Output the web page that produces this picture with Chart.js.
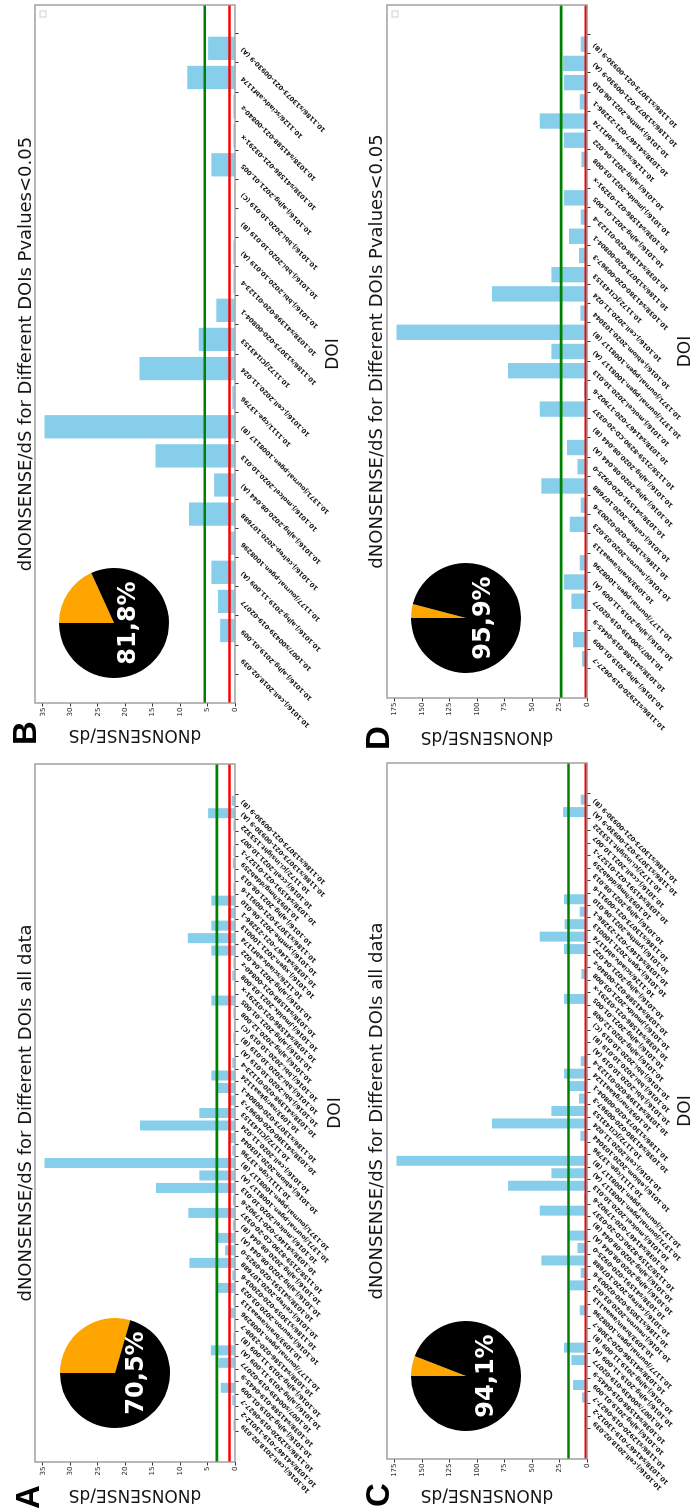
<!DOCTYPE html>
<html>
<head>
<meta charset="utf-8">
<script src="https://cdn.jsdelivr.net/npm/chart.js@4.4.1/dist/chart.umd.min.js"></script>
<style>
  html, body { margin: 0; padding: 0; background: #fff; width: 699px; height: 1510px; overflow: hidden; }
  /* the figure is laid out landscape and turned a quarter turn counter-clockwise */
  #fig { position: absolute; left: 0; top: 0; width: 1510px; height: 699px; background: #fff;
         transform-origin: 0 0; transform: translate(0, 1510px) rotate(-90deg);
         font-family: "DejaVu Sans", sans-serif; }
  .panel { position: absolute; }
  .panel canvas { position: absolute; left: 0; top: 0; }
  .letter { position: absolute; font: bold 33px/33px "Liberation Sans", Arial, sans-serif; color: #000; }
  .ttl { position: absolute; font-size: 18px; line-height: 18px; white-space: nowrap; color: #151515;
         transform: translateX(-50%); }
</style>
</head>
<body>
<div id="fig"></div>
<script>
// ═══ DATA ═══
const DOIS = [
  "10.1016/j.cell.2018.02.039", "10.1038/s41467-019-13012-2", "10.1186/s12920-019-0627-7",
  "10.1016/j.ajhg.2019.01.009", "10.1038/s41588-019-0445-9", "10.1007/s00439-019-02077",
  "10.1016/j.ajhg.2019.11.009 (A)", "10.1016/j.ajhg.2019.11.009 (B)", "10.1038/s41586-020-2308-7",
  "10.1177/journal.pgen.1008296", "10.1093/brain/awaa113", "10.1016/j.neuron.2020.03.023",
  "10.1186/s13059-020-02003-6", "10.1016/j.celrep.2020.107688", "10.1038/s41591-020-0925-0",
  "10.1016/j.ajhg.2020.08.044 (A)", "10.1016/j.ajhg.2020.08.044 (B)", "10.1158/2159-8290.CD-20-0337",
  "10.1038/s41467-020-17902-6", "10.1016/j.molcel.2020.10.013", "10.1371/journal.pgen.1008117 (A)",
  "10.1371/journal.pgen.1008117 (B)", "10.1111/cge.13796", "10.1016/j.ebiom.2020.103044",
  "10.1016/j.cell.2020.11.024", "10.1172/JCI143153", "10.1038/s41380-020-00967-3",
  "10.1186/s13073-020-00804-1", "10.1093/nar/gkaa1124", "10.1038/s41398-020-01123-4",
  "10.1016/j.bbi.2020.10.019 (A)", "10.1016/j.bbi.2020.10.019 (B)", "10.1016/j.bbi.2020.10.019 (C)",
  "10.1016/j.ajhg.2020.12.008", "10.1016/j.ajhg.2021.01.005", "10.1038/s41586-021-03291-x",
  "10.1016/j.jmoldx.2021.03.008", "10.1038/s41588-021-00840-z", "10.1016/j.ajhg.2021.04.022",
  "10.1126/sciadv.abf1174", "10.1016/j.xgen.2021.100013", "10.1038/s41467-021-23286-1",
  "10.1016/j.ymthe.2021.06.010", "10.1186/s13073-021-00911-6", "10.1016/j.ajhg.2021.08.013",
  "10.1093/hmg/ddab259", "10.1038/s41591-021-01527-1", "10.1016/j.ccell.2021.10.007",
  "10.1172/jci.insight.153322", "10.1186/s13073-021-00930-9 (A)", "10.1186/s13073-021-00930-9 (B)"
];

// A: all data
const VALS_A = [
  0.3, 0.2, 0.5, 2.6, 0.2, 3.0, 4.4, 0.3, 0.2, 1.1,
  0.3, 3.4, 0.5, 8.3, 1.8, 3.5, 0.4, 8.5, 0.4, 14.4,
  6.5, 34.7, 0.5, 0.9, 17.3, 6.5, 1.0, 3.5, 4.3, 0.5,
  0.2, 0.3, 0.2, 0.3, 4.3, 0.2, 0.5, 0.3, 4.3, 8.6,
  4.3, 1.2, 4.3, 0.3, 0.2, 0.4, 0.3, 0.2, 0.3, 4.9, 0.6
];
// B: Pvalues<0.05 (positions in DOIS)
const B_IDX = [0, 3, 5, 6, 9, 13, 15, 19, 21, 22, 24, 25, 27, 29, 30, 31, 32, 34, 35, 37, 39, 49];
const VALS_B = [0.2, 2.7, 3.1, 4.3, 0.8, 8.4, 3.8, 14.5, 34.7, 0.5, 17.4, 6.6, 3.4, 0.3, 0.3, 0.1, 0.1, 4.3, 0.3, 0.3, 8.7, 4.9];
// C: all data
const VALS_C = [
  2.0, 1.0, 4.5, 12.7, 1.0, 14.2, 20.9, 1.5, 0.8, 6.6,
  1.5, 15.7, 5.7, 41.5, 8.7, 16.5, 2.0, 43.0, 2.5, 71.8,
  32.4, 173.3, 1.2, 6.0, 86.4, 32.4, 7.3, 16.4, 20.9, 5.7,
  1.0, 1.5, 0.8, 1.0, 20.9, 1.0, 5.1, 1.0, 20.9, 43.0,
  20.4, 6.6, 20.9, 1.0, 0.8, 1.5, 1.0, 0.8, 1.0, 21.8, 5.7
];
// D: Pvalues<0.05 (positions in DOIS)
const D_IDX = [2, 3, 4, 5, 6, 9, 10, 11, 12, 13, 14, 15, 16, 17, 18, 19, 20, 21, 23, 24, 25, 26, 27, 29, 34, 35, 36, 38, 39, 41, 42, 49, 50];
const VALS_D = [
  4.5, 12.7, 1.0, 14.2, 20.9, 6.6, 1.5, 15.7, 5.7, 41.5,
  8.7, 18.2, 2.0, 43.0, 2.5, 71.8, 32.4, 173.3, 6.0, 86.4,
  32.4, 7.3, 16.4, 5.7, 20.9, 1.0, 5.1, 20.9, 43.0, 6.6,
  20.9, 21.8, 5.7
];

const MEAN_A = 3.3, MEAN_B = 5.5, MEAN_C = 16.8, MEAN_D = 23.5;
const NEUTRAL = 1;
const TICKS_AB = [0, 5, 10, 15, 20, 25, 30, 35];
const TICKS_CD = [0, 25, 50, 75, 100, 125, 150, 175];
const PIE_LABELS = ["other", "share"];
const PIE_A = [29.5, 70.5];
const PIE_B = [18.2, 81.8];
const PIE_C = [5.9, 94.1];
const PIE_D = [4.1, 95.9];
const TITLE_ALL = "dNONSENSE/dS for Different DOIs all data";
const TITLE_P = "dNONSENSE/dS for Different DOIs Pvalues<0.05";

const SKY = "#87CEEB";
const GREEN = "#008000";
const RED = "#FF0000";
const FONT = "'DejaVu Sans'";

// ═══ PANELS (landscape coordinates before the quarter turn) ═══
const PANELS = [
  { key: "A", x: 0, y: 0, w: 755, h: 350, plot: { l: 48, r: 746, t: 35, b: 235 },
    labels: DOIS, vals: VALS_A, mean: MEAN_A, ticks: TICKS_AB, pie: PIE_A, pieAt: [137, 115], txtDy: 22,
    letter: [1, 11], titleY: 16, yPad: 5, doiPad: 4, legend: false, title: TITLE_ALL },
  { key: "B", x: 755, y: 0, w: 755, h: 350, plot: { l: 52, r: 750, t: 35, b: 235 },
    labels: B_IDX.map(i => DOIS[i]), vals: VALS_B, mean: MEAN_B, ticks: TICKS_AB, pie: PIE_B, pieAt: [132, 114], txtDy: 15,
    letter: [10, 8], titleY: 16, yPad: 10, doiPad: 6, legend: true, title: TITLE_P },
  { key: "C", x: 0, y: 350, w: 755, h: 349, plot: { l: 51, r: 747, t: 37, b: 237 },
    labels: DOIS, vals: VALS_C, mean: MEAN_C, ticks: TICKS_CD, pie: PIE_C, pieAt: [134, 116], txtDy: 21,
    letter: [3, 11], titleY: 17, yPad: 5, doiPad: 3, legend: false, title: TITLE_ALL },
  { key: "D", x: 755, y: 350, w: 755, h: 349, plot: { l: 57, r: 750, t: 37, b: 237 },
    labels: D_IDX.map(i => DOIS[i]), vals: VALS_D, mean: MEAN_D, ticks: TICKS_CD, pie: PIE_D, pieAt: [137, 116], txtDy: 18,
    letter: [5, 11], titleY: 17, yPad: 8, doiPad: 3, legend: true, title: TITLE_P },
];

// reference lines, frame and empty legend box
const overlay = {
  id: "overlay",
  afterDatasetsDraw(chart, args, o) {
    const { ctx, chartArea: a, scales: { y } } = chart;
    ctx.save();
    [[o.mean, GREEN], [o.unity, RED]].forEach(([v, c]) => {
      const py = y.getPixelForValue(v);
      ctx.strokeStyle = c; ctx.lineWidth = 2.6;
      ctx.beginPath(); ctx.moveTo(a.left, py); ctx.lineTo(a.right, py); ctx.stroke();
    });
    ctx.strokeStyle = "#9a9a9a"; ctx.lineWidth = 1.4;
    ctx.strokeRect(a.left, a.top, a.right - a.left, a.bottom - a.top);
    if (o.legend) {
      ctx.strokeStyle = "#d0d0d0"; ctx.lineWidth = 1;
      ctx.strokeRect(a.right - 12, a.top + 5, 6, 6);
    }
    ctx.restore();
  }
};

const pctText = {
  id: "pctText",
  afterDraw(chart, args, o) {
    const { ctx, chartArea: a } = chart;
    ctx.save();
    ctx.fillStyle = "#fff";
    ctx.font = "bold 24px " + FONT;
    ctx.textAlign = "center";
    ctx.textBaseline = "middle";
    ctx.fillText(o.text, (a.left + a.right) / 2, (a.top + a.bottom) / 2 + o.dy);
    ctx.restore();
  }
};

function barChart(p, el) {
  const canvas = document.createElement("canvas");
  canvas.width = p.w; canvas.height = p.h;
  el.appendChild(canvas);
  const n = p.vals.length;
  const m = 0.4 + 0.05 * (n - 0.2);   // matplotlib default x margins around the bars
  return new Chart(canvas, {
    type: "bar",
    data: {
      datasets: [{
        data: p.vals.map((v, i) => ({ x: i, y: v })),
        backgroundColor: SKY,
        borderWidth: 0,
        categoryPercentage: 1,
        barPercentage: 0.8,
      }]
    },
    options: {
      responsive: false, animation: false, devicePixelRatio: 1,
      layout: { padding: { left: 0, top: p.plot.t, right: p.w - p.plot.r, bottom: 0 } },
      plugins: {
        legend: { display: false }, tooltip: { enabled: false },
        overlay: { mean: p.mean, unity: NEUTRAL, legend: p.legend }
      },
      scales: {
        x: {
          type: "linear", min: -m, max: n - 1 + m, bounds: "data", offset: false,
          afterBuildTicks: s => { s.ticks = p.labels.map((_, i) => ({ value: i })); },
          afterFit: s => { s.height = p.h - p.plot.b; s.paddingLeft = 0; s.paddingRight = 0; },
          ticks: {
            autoSkip: false, minRotation: 45, maxRotation: 45, padding: 1, color: "#111",
            font: { size: 6.3, weight: "bold", family: FONT },
            callback: v => p.labels[v]
          },
          grid: { drawOnChartArea: false, tickLength: 3.5, color: "#333" },
          border: { display: false },
          title: { display: true, text: "DOI", color: "#151515", font: { size: 17, family: FONT },
                   padding: { top: 0, bottom: p.doiPad } }
        },
        y: {
          min: 0, max: Math.max(...p.vals) * 1.05, bounds: "data",
          afterBuildTicks: s => { s.ticks = p.ticks.map(v => ({ value: v })); },
          afterFit: s => { s.width = p.plot.l; s.paddingTop = 0; s.paddingBottom = 0; },
          ticks: { color: "#222", padding: 1, font: { size: 7, family: FONT } },
          grid: { drawOnChartArea: false, tickLength: 3.5, color: "#333" },
          border: { display: false },
          title: { display: true, text: "dNONSENSE/dS", color: "#151515", font: { size: 17, family: FONT },
                   padding: { top: p.yPad, bottom: 0 } }
        }
      }
    },
    plugins: [overlay]
  });
}

function pieChart(p, el) {
  const size = 112;
  const canvas = document.createElement("canvas");
  canvas.width = size; canvas.height = size;
  canvas.style.left = (p.pieAt[0] - size / 2) + "px";
  canvas.style.top = (p.pieAt[1] - size / 2) + "px";
  el.appendChild(canvas);
  return new Chart(canvas, {
    type: "pie",
    data: {
      labels: PIE_LABELS,
      datasets: [{ data: p.pie, backgroundColor: ["#FFA500", "#000000"], borderWidth: 0 }]
    },
    options: {
      responsive: false, animation: false, devicePixelRatio: 1,
      layout: { padding: 1 },
      plugins: {
        legend: { display: false }, tooltip: { enabled: false },
        pctText: { text: p.pie[1].toFixed(1).replace(".", ",") + "%", dy: p.txtDy }
      }
    },
    plugins: [pctText]
  });
}

const fig = document.getElementById("fig");
PANELS.forEach(p => {
  const el = document.createElement("div");
  el.className = "panel";
  el.style.cssText = `left:${p.x}px;top:${p.y}px;width:${p.w}px;height:${p.h}px;`;
  fig.appendChild(el);

  barChart(p, el);
  pieChart(p, el);

  const t = document.createElement("div");
  t.className = "ttl";
  t.textContent = p.title;
  t.style.left = ((p.plot.l + p.plot.r) / 2) + "px";
  t.style.top = p.titleY + "px";
  el.appendChild(t);

  const L = document.createElement("div");
  L.className = "letter";
  L.textContent = p.key;
  L.style.left = p.letter[0] + "px";
  L.style.top = p.letter[1] + "px";
  el.appendChild(L);
});
</script>
</body>
</html>
